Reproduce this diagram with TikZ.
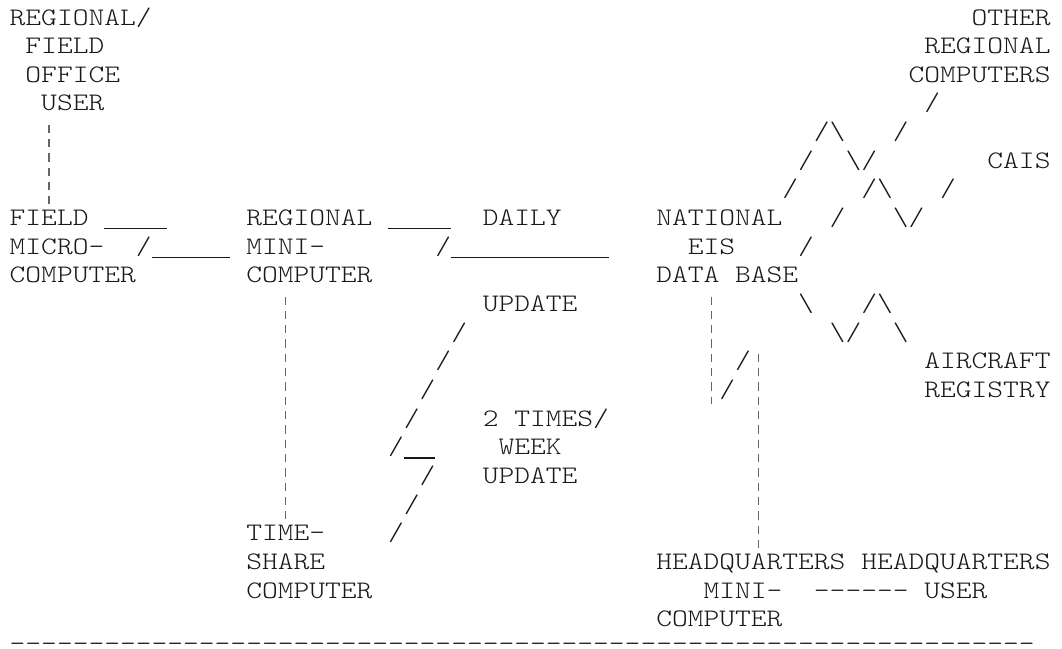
\documentclass[tikz,border=0pt]{standalone}
\usepackage{fontspec}
\newfontfamily\cour{lmmonolt10-regular.otf}[FakeStretch=1.192]
\newcommand\hy[1]{\count255=0 \loop\ifnum\count255<#1 \char45\kern0pt \advance\count255 by 1 \repeat}
\newcommand\us[1]{\rule[-1.9pt]{\dimexpr 7.885pt*#1\relax}{0.6pt}}
\newcommand\T[4]{\node[txt] (#1) at ({9.7+15.77*(#2)},{25+28.65*(#3)}) {#4};}
\newcommand\C[3]{\coordinate (#1) at ({9.7+15.77*(#2+0.5)},{#3});}
\newcommand\bs{\textbackslash}
\begin{document}
\begin{tikzpicture}[x=0.5pt,y=-0.5pt,
  txt/.style={anchor=base west,inner sep=0pt,outer sep=0pt,
    font=\cour\fontsize{12.6}{14}\selectfont,text=black!90},
  bbar/.style={draw=black!60,line width=0.7pt,dash pattern=on 4.15pt off 3.01pt}]
\fill[white] (0,0) rectangle (1062,649);
\useasboundingbox (0,0) rectangle (1062,649);
% row 0-3
\T{rfo1}{0}{0}{REGIONAL/}
\T{orc1}{61}{0}{OTHER}
\T{rfo2}{1}{1}{FIELD}
\T{orc2}{58}{1}{REGIONAL}
\T{rfo3}{1}{2}{OFFICE}
\T{orc3}{57}{2}{COMPUTERS}
\T{rfo4}{2}{3}{USER}
\T{s3a}{58}{3}{/}
% rows 4-6
\T{s4a}{51}{4}{/\bs}
\T{s4b}{56}{4}{/}
\T{s5a}{50}{5}{/}
\T{s5b}{53}{5}{\bs/}
\T{cais}{62}{5}{CAIS}
\T{s6a}{49}{6}{/}
\T{s6b}{54}{6}{/\bs}
\T{s6c}{59}{6}{/}
% row 7
\T{fm1}{0}{7}{FIELD}
\T{u7a}{6}{7}{\us{4}}
\T{rm1}{15}{7}{REGIONAL}
\T{u7b}{24}{7}{\us{4}}
\T{daily}{30}{7}{DAILY}
\T{ne1}{41}{7}{NATIONAL}
\T{s7a}{52}{7}{/}
\T{s7b}{56}{7}{\bs/}
% row 8
\T{fm2}{0}{8}{MICRO-}
\T{u8a}{8}{8}{/\us{5}}
\T{rm2}{15}{8}{MINI-}
\T{u8b}{27}{8}{/\us{10}}
\T{ne2}{43}{8}{EIS}
\T{s8a}{50}{8}{/}
% row 9
\T{fm3}{0}{9}{COMPUTER}
\T{rm3}{15}{9}{COMPUTER}
\T{ne3}{41}{9}{DATA BASE}
% rows 10-18
\T{upd1}{30}{10}{UPDATE}
\T{s10a}{50}{10}{\bs}
\T{s10b}{54}{10}{/\bs}
\T{s11a}{28}{11}{/}
\T{s11b}{52}{11}{\bs/}
\T{s11c}{56}{11}{\bs}
\T{s12a}{27}{12}{/}
\T{s12b}{46}{12}{/}
\T{ar1}{58}{12}{AIRCRAFT}
\T{s13a}{26}{13}{/}
\T{s13b}{45}{13}{/}
\T{ar2}{58}{13}{REGISTRY}
\T{s14a}{25}{14}{/}
\T{tw1}{30}{14}{2 TIMES/}
\T{s15a}{24}{15}{/\us{2}}
\T{tw2}{31}{15}{WEEK}
\T{s16a}{26}{16}{/}
\T{tw3}{30}{16}{UPDATE}
\T{s17a}{25}{17}{/}
\T{ts1}{15}{18}{TIME-}
\T{s18a}{24}{18}{/}
% rows 19-22
\T{ts2}{15}{19}{SHARE}
\T{hm1}{41}{19}{HEADQUARTERS}
\T{hu1}{54}{19}{HEADQUARTERS}
\T{ts3}{15}{20}{COMPUTER}
\T{hm2}{44}{20}{MINI-}
\T{hl}{51}{20}{\hy{6}}
\T{hu2}{58}{20}{USER}
\T{hm3}{41}{21}{COMPUTER}
\node[txt] (rule) at (9.7,651) {\hy{65}};
% broken-bar connectors
\C{a1}{2}{25+28.65*4-15}  \C{a2}{2}{25+28.65*6+7}
\C{b1}{17}{25+28.65*10-15} \C{b2}{17}{25+28.65*17+7}
\C{c1}{44}{25+28.65*10-15} \C{c2}{44}{25+28.65*13+7}
\C{d1}{47}{25+28.65*12-15} \C{d2}{47}{25+28.65*18+7}
\draw[bbar] (a1) -- (a2);
\draw[bbar] (b1) -- (b2);
\draw[bbar] (c1) -- (c2);
\draw[bbar] (d1) -- (d2);
\end{tikzpicture}
\end{document}
